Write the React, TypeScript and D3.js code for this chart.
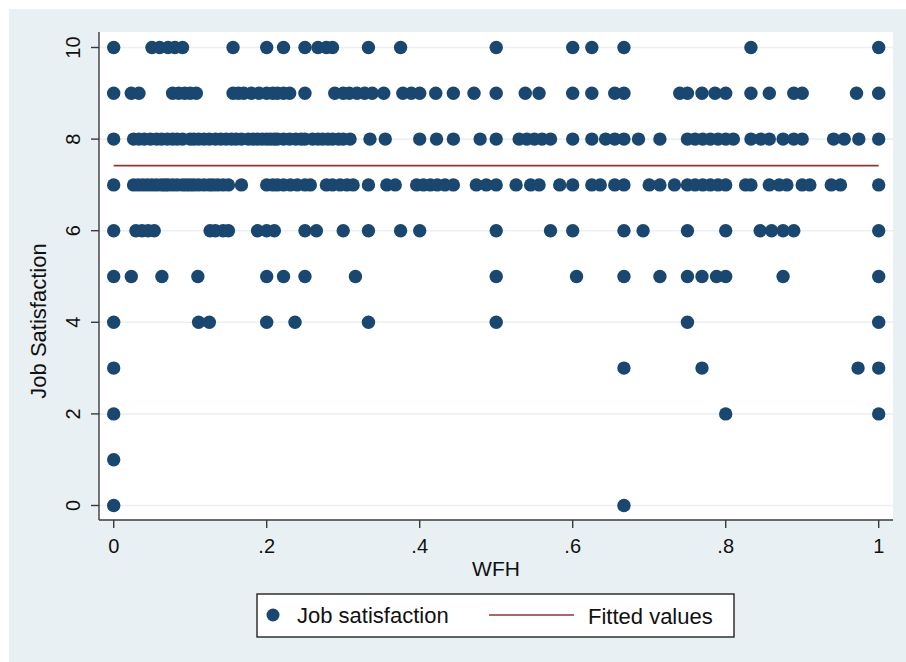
import React from "react";
import * as d3 from "d3";

// WFH share for each job-satisfaction level
const wfh10 = [0, 0.05, 0.06, 0.071, 0.08, 0.09, 0.156, 0.2, 0.222, 0.25, 0.267, 0.278, 0.286, 0.333, 0.375, 0.5, 0.6, 0.625, 0.667, 0.833, 1];
const wfh9 = [0, 0.023, 0.033, 0.077, 0.085, 0.093, 0.1, 0.108, 0.156, 0.163, 0.17, 0.18, 0.19, 0.2, 0.208, 0.214, 0.222, 0.23, 0.25, 0.289, 0.3, 0.308, 0.318, 0.328, 0.338, 0.353, 0.378, 0.389, 0.4, 0.421, 0.444, 0.471, 0.5, 0.538, 0.556, 0.6, 0.625, 0.655, 0.667, 0.74, 0.75, 0.769, 0.786, 0.8, 0.833, 0.857, 0.889, 0.9, 0.971, 1];
const wfh8 = [0, 0.026, 0.033, 0.04, 0.048, 0.056, 0.0625, 0.07, 0.077, 0.083, 0.09, 0.1, 0.105, 0.111, 0.118, 0.125, 0.133, 0.14, 0.147, 0.154, 0.16, 0.167, 0.176, 0.182, 0.188, 0.194, 0.2, 0.205, 0.21, 0.214, 0.222, 0.23, 0.238, 0.245, 0.25, 0.26, 0.267, 0.273, 0.28, 0.286, 0.294, 0.3, 0.309, 0.335, 0.355, 0.4, 0.422, 0.444, 0.479, 0.5, 0.53, 0.54, 0.55, 0.56, 0.571, 0.6, 0.625, 0.643, 0.655, 0.667, 0.686, 0.714, 0.75, 0.76, 0.77, 0.78, 0.79, 0.8, 0.81, 0.833, 0.846, 0.857, 0.875, 0.889, 0.9, 0.941, 0.955, 0.974, 1];
const wfh7 = [0, 0.026, 0.032, 0.038, 0.044, 0.05, 0.056, 0.0625, 0.067, 0.071, 0.077, 0.083, 0.09, 0.095, 0.1, 0.105, 0.111, 0.118, 0.125, 0.13, 0.136, 0.143, 0.15, 0.167, 0.2, 0.208, 0.214, 0.222, 0.231, 0.24, 0.25, 0.257, 0.278, 0.286, 0.296, 0.305, 0.313, 0.333, 0.357, 0.368, 0.396, 0.405, 0.414, 0.423, 0.433, 0.444, 0.474, 0.487, 0.5, 0.526, 0.545, 0.556, 0.583, 0.6, 0.625, 0.636, 0.655, 0.667, 0.7, 0.714, 0.733, 0.75, 0.76, 0.77, 0.78, 0.79, 0.8, 0.826, 0.833, 0.857, 0.87, 0.88, 0.9, 0.91, 0.938, 0.95, 1];
const wfh6 = [0, 0.029, 0.037, 0.045, 0.053, 0.126, 0.133, 0.143, 0.15, 0.188, 0.2, 0.21, 0.25, 0.265, 0.3, 0.333, 0.375, 0.4, 0.5, 0.571, 0.6, 0.667, 0.692, 0.75, 0.8, 0.845, 0.86, 0.875, 0.889, 1];
const wfh5 = [0, 0.023, 0.063, 0.11, 0.2, 0.222, 0.25, 0.316, 0.5, 0.605, 0.667, 0.714, 0.75, 0.769, 0.788, 0.8, 0.875, 1];
const wfh4 = [0, 0.111, 0.125, 0.2, 0.237, 0.333, 0.5, 0.75, 1];
const wfh3 = [0, 0.667, 0.769, 0.973, 1];
const wfh2 = [0, 0.8, 1];
const wfh1 = [0];
const wfh0 = [0, 0.667];

const satisfactionLevels = [10, 9, 8, 7, 6, 5, 4, 3, 2, 1, 0];
const wfhByLevel = [wfh10, wfh9, wfh8, wfh7, wfh6, wfh5, wfh4, wfh3, wfh2, wfh1, wfh0];

const fittedX = [0, 1];
const fittedY = [7.42, 7.42];

const xTicks = [0, 0.2, 0.4, 0.6, 0.8, 1];
const xTickLabels = ["0", ".2", ".4", ".6", ".8", "1"];
const yTicks = [0, 2, 4, 6, 8, 10];

const NAVY = "#1a476f";
const MAROON = "#90353b";
const BG = "#e9f0f3";
const GRID = "#eaf0f3";
const AXIS = "#3a3a3a";
const FONT = "'Liberation Sans', Arial, Helvetica, sans-serif";

export default function App() {
  const W = 906;
  const H = 662;
  const plot = { left: 99, right: 893, top: 32, bottom: 520 };
  const x = d3.scaleLinear().domain([0, 1]).range([113.7, 878.7]);
  const y = d3.scaleLinear().domain([0, 10]).range([505.5, 47.5]);

  const points: { wfh: number; sat: number }[] = [];
  satisfactionLevels.forEach((s, i) => {
    wfhByLevel[i].forEach((w) => points.push({ wfh: w, sat: s }));
  });

  const fitted = d3
    .line<number>()
    .x((_, i) => x(fittedX[i]))
    .y((_, i) => y(fittedY[i]))(fittedX) as string;

  return (
    <svg
      width={W}
      height={H}
      style={{ position: "absolute", left: 0, top: 0, display: "block" }}
      fontFamily={FONT}
    >
      <rect x={0} y={0} width={W} height={H} fill="#ffffff" />
      <rect x={9} y={9} width={W - 9} height={H - 9} fill={BG} />
      <rect
        x={plot.left}
        y={plot.top}
        width={plot.right - plot.left}
        height={plot.bottom - plot.top}
        fill="#ffffff"
      />
      {yTicks.map((t) => (
        <line
          key={"g" + t}
          x1={plot.left}
          x2={plot.right}
          y1={y(t)}
          y2={y(t)}
          stroke={GRID}
          strokeWidth={1.6}
        />
      ))}
      {/* axes */}
      <line x1={plot.left} x2={plot.left} y1={plot.top} y2={plot.bottom} stroke={AXIS} strokeWidth={1.4} />
      <line x1={plot.left} x2={plot.right} y1={plot.bottom} y2={plot.bottom} stroke={AXIS} strokeWidth={1.4} />
      {yTicks.map((t) => (
        <g key={"yt" + t}>
          <line x1={plot.left - 8} x2={plot.left} y1={y(t)} y2={y(t)} stroke={AXIS} strokeWidth={1.4} />
          <text
            transform={`translate(80,${y(t)}) rotate(-90)`}
            textAnchor="middle"
            fontSize={20}
            fill="#111"
          >
            {t}
          </text>
        </g>
      ))}
      {xTicks.map((t, i) => (
        <g key={"xt" + t}>
          <line x1={x(t)} x2={x(t)} y1={plot.bottom} y2={plot.bottom + 8} stroke={AXIS} strokeWidth={1.4} />
          <text x={x(t)} y={553} textAnchor="middle" fontSize={20} fill="#111">
            {xTickLabels[i]}
          </text>
        </g>
      ))}
      <text x={(plot.left + plot.right) / 2} y={576} textAnchor="middle" fontSize={21} fill="#111">
        WFH
      </text>
      <text
        transform={`translate(46,${(plot.top + plot.bottom) / 2 + 45}) rotate(-90)`}
        textAnchor="middle"
        fontSize={22}
        fill="#111"
      >
        Job Satisfaction
      </text>
      {/* points */}
      {points.map((p, i) => (
        <circle key={i} cx={x(p.wfh)} cy={y(p.sat)} r={6.7} fill={NAVY} />
      ))}
      {/* fitted line */}
      <path d={fitted} stroke={MAROON} strokeWidth={1.6} fill="none" />
      {/* legend */}
      <rect x={257} y={594} width={477} height={43} fill="#ffffff" stroke="#222" strokeWidth={1.4} />
      <circle cx={273} cy={615} r={6.5} fill={NAVY} />
      <text x={297} y={623} fontSize={22} fill="#111">
        Job satisfaction
      </text>
      <line x1={489} x2={574} y1={615} y2={615} stroke={MAROON} strokeWidth={1.6} />
      <text x={588} y={624} fontSize={22} fill="#111">
        Fitted values
      </text>
    </svg>
  );
}
